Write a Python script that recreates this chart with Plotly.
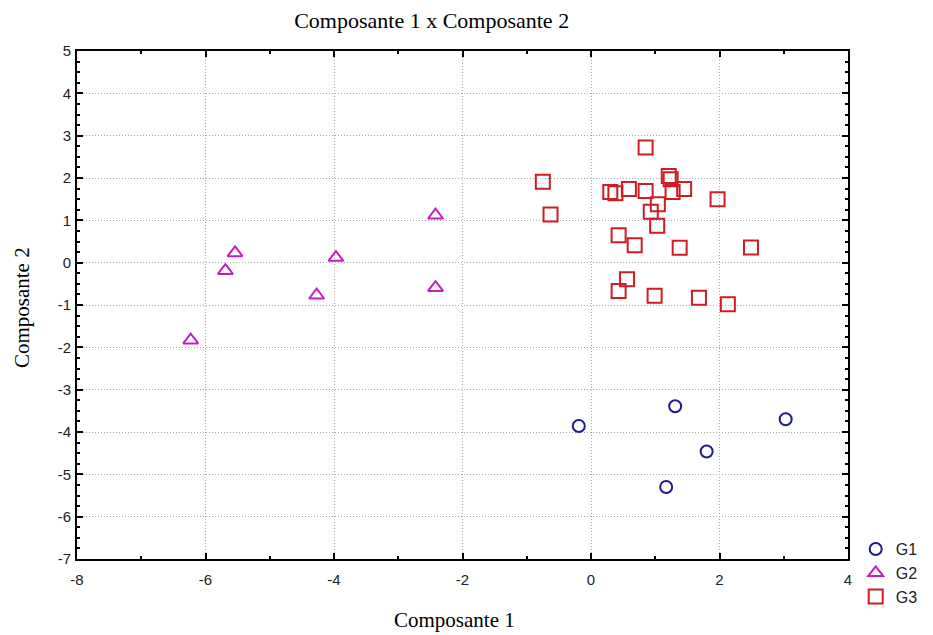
import plotly.graph_objects as go

# G1 (circles)
g1_x = [-0.19, 1.31, 3.03, 1.80, 1.17]
g1_y = [-3.86, -3.39, -3.70, -4.46, -5.30]

# G2 (triangles)
g2_x = [-6.23, -5.69, -5.54, -3.97, -4.27, -2.42, -2.42]
g2_y = [-1.83, -0.19, 0.23, 0.12, -0.77, 1.12, -0.59]

# G3 (squares)
g3_x = [0.85, -0.75, -0.63, 0.30, 0.38, 0.59, 0.85, 1.21, 1.24, 1.27, 1.45, 1.04,
        0.93, 1.03, 1.97, 0.43, 0.68, 1.38, 2.49, 0.56, 0.43, 0.99, 1.68, 2.13]
g3_y = [2.72, 1.91, 1.14, 1.67, 1.64, 1.74, 1.69, 2.05, 1.97, 1.67, 1.74, 1.38,
        1.20, 0.87, 1.50, 0.65, 0.41, 0.35, 0.36, -0.39, -0.67, -0.78, -0.83, -0.98]

x_ticks = [-8, -6, -4, -2, 0, 2, 4]
y_ticks = [5, 4, 3, 2, 1, 0, -1, -2, -3, -4, -5, -6, -7]

fig = go.Figure()
fig.add_trace(go.Scatter(x=g1_x, y=g1_y, mode="markers", name="G1",
                         marker=dict(symbol="circle-open", size=12, color="#1c1c8f",
                                     line=dict(width=2, color="#1c1c8f"))))
fig.add_trace(go.Scatter(x=g2_x, y=g2_y, mode="markers", name="G2",
                         marker=dict(symbol="triangle-up-open", size=13, color="#c21fc2",
                                     line=dict(width=2, color="#c21fc2"))))
fig.add_trace(go.Scatter(x=g3_x, y=g3_y, mode="markers", name="G3",
                         marker=dict(symbol="square-open", size=14, color="#d01c24",
                                     line=dict(width=2, color="#d01c24"))))

axis_common = dict(
    showline=True, linecolor="black", linewidth=2, mirror="ticks",
    ticks="inside", ticklen=6, tickwidth=1.5, tickcolor="black",
    showgrid=True, gridcolor="#a8a8a8", griddash="1px,2px", gridwidth=1,
    zeroline=False,
    tickfont=dict(family="Liberation Sans, Arial", size=15, color="#222222"),
)

fig.update_xaxes(range=[-8, 4], tickvals=x_ticks, ticktext=[str(v) for v in x_ticks],
                 minor=dict(dtick=1, ticks="inside", ticklen=3, tickcolor="black", showgrid=False),
                 ticklabelstandoff=6,
                 **axis_common)
fig.update_yaxes(range=[-7, 5], tickvals=y_ticks, ticktext=[str(v) for v in y_ticks],
                 minor=dict(dtick=0.25, ticks="inside", ticklen=3, tickcolor="black", showgrid=False),
                 ticklabelstandoff=1,
                 **axis_common)

# page body has an 8px margin, so the figure is 8px smaller and everything shifted
fig.update_layout(
    width=925, height=627,
    margin=dict(l=69, r=85, t=43, b=76, autoexpand=False),
    paper_bgcolor="white", plot_bgcolor="white",
    title=dict(text="Composante 1 x Composante 2", x=0.46, xref="paper",
               y=1 - 12 / 627, yanchor="middle", xanchor="center",
               font=dict(family="Liberation Serif, Times New Roman", size=22, color="black")),
    legend=dict(x=1.01, xanchor="left", y=0.053, yanchor="top",
                font=dict(family="Liberation Sans, Arial", size=16, color="#222222"),
                bgcolor="rgba(0,0,0,0)", itemwidth=30, tracegroupgap=0),
    showlegend=True,
    annotations=[
        dict(text="Composante 1", x=0.49, xref="paper", y=-61 / 508, yref="paper",
             yanchor="middle", xanchor="center", showarrow=False,
             font=dict(family="Liberation Serif, Times New Roman", size=21, color="black")),
        dict(text="Composante 2", x=-55 / 771, xref="paper", y=0.494, yref="paper",
             yanchor="middle", xanchor="center", showarrow=False, textangle=-90,
             font=dict(family="Liberation Serif, Times New Roman", size=21, color="black")),
    ],
)

fig.write_html("out.html")
